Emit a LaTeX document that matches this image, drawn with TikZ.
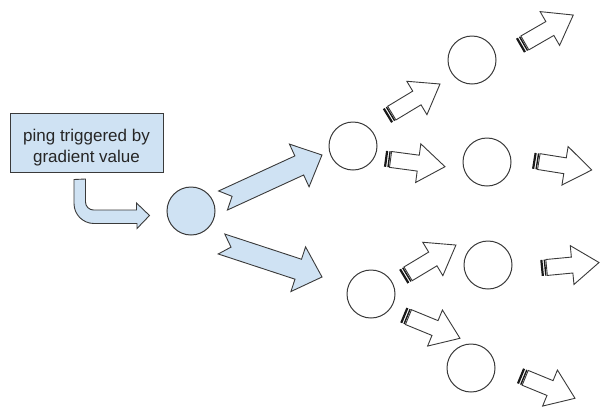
\documentclass[tikz,border=0pt]{standalone}
\usepackage{fontspec}
\setmainfont{Liberation Sans}
\usetikzlibrary{calc}
\definecolor{paleblue}{HTML}{CFE2F3}
\definecolor{edgegray}{HTML}{3A3A3A}
\newcommand{\shaftw}{8}
\newcommand{\headw}{19.5}
\newcommand{\headl}{27}
\newcommand{\bshaftw}{10.5}
\newcommand{\bheadw}{23.5}
\newcommand{\bheadl}{25}
\newcommand{\notchd}{10}
\newcommand{\arrowsetup}[2]{%
  \pgfpointdiff{\pgfpointanchor{#1}{center}}{\pgfpointanchor{#2}{center}}%
  \pgfgetlastxy{\arrdx}{\arrdy}%
  \pgfmathsetmacro{\arrlen}{veclen(\arrdx,\arrdy)}%
  \pgfmathsetmacro{\arrang}{atan2(\arrdy,\arrdx)}}
\newcommand{\stripearrow}[2]{%
  \arrowsetup{#1}{#2}
  \begin{scope}[shift={(#1)}, rotate=\arrang]
  \fill[stripe] (0,-\shaftw) rectangle (2.2,\shaftw);
  \fill[stripe] (3.4,-\shaftw) rectangle (4.8,\shaftw);
  \draw[whitearrow] (5.6,-\shaftw) -- ({\arrlen-\headl},-\shaftw) -- ({\arrlen-\headl},-\headw) -- (\arrlen,0) -- ({\arrlen-\headl},\headw) -- ({\arrlen-\headl},\shaftw) -- (5.6,\shaftw) -- cycle;
  \end{scope}}
\newcommand{\notcharrow}[2]{%
  \arrowsetup{#1}{#2}
  \begin{scope}[shift={(#1)}, rotate=\arrang]
  \draw[bluearrow] (0,-\bshaftw) -- ({\arrlen-\bheadl},-\bshaftw) -- ({\arrlen-\bheadl},-\bheadw) -- (\arrlen,0) -- ({\arrlen-\bheadl},\bheadw) -- ({\arrlen-\bheadl},\bshaftw) -- (0,\bshaftw) -- (\notchd,0) -- cycle;
  \end{scope}}

\begin{document}
\begin{tikzpicture}[x=1pt,y=-1pt,
  circ/.style={circle,draw=edgegray,line width=1pt,minimum size=48pt,inner sep=0pt},
  textbox/.style={rectangle,draw=edgegray,fill=paleblue,line width=1pt,minimum width=153pt,minimum height=59pt},
  boxtext/.style={align=center,inner sep=0pt,font=\fontsize{17}{21}\selectfont,text=black!85},
  bluearrow/.style={draw=edgegray,fill=paleblue,line width=0.9pt,line join=miter},
  whitearrow/.style={draw=edgegray,fill=white,line width=0.9pt,line join=miter},
  stripe/.style={fill=black!90}]
\useasboundingbox (0,0) rectangle (600,408);
\node[textbox] (gradbox) at (86.5,142.5) {};
\node[boxtext] (gradtext) at ($(gradbox)+(0,5)$) {ping triggered by\\gradient value};
\node[circ,fill=paleblue] (0) at (191,211) {};
\node[circ] (1) at (353,146) {};
\node[circ] (2) at (371,294) {};
\node[circ] (3) at (472,60) {};
\node[circ] (4) at (487,162) {};
\node[circ] (5) at (488,265) {};
\node[circ] (6) at (471,368) {};
% bent arrow from the box
\coordinate (bendtop) at ($(gradbox.south)+(-6.5,7)$);
\coordinate (bendtip) at ($(0.west)+(-17,4.5)$);
\draw[bluearrow] ($(bendtop)+(-6,0)$) -- ++(0,24) arc[start angle=180,end angle=90,radius=20] -- ++(43,0) -- ++(0,5) -- (bendtip) -- ++(-13,-12.5) -- ++(0,7) -- ++(-43,0) arc[start angle=90,end angle=180,radius=8] -- ++(0,-23) -- cycle;
% notched arrows
\coordinate (ta) at (223,200.5);
\coordinate (ha) at (322,155);
\coordinate (tb) at (221.5,244);
\coordinate (hb) at (322,277);
\notcharrow{ta}{ha}
\notcharrow{tb}{hb}
% striped arrows
\coordinate (t1) at (387,116);
\coordinate (h1) at (440,84);
\coordinate (t2) at (385,158.7);
\coordinate (h2) at (445,166.7);
\coordinate (t3) at (520,45.7);
\coordinate (h3) at (573.3,15);
\coordinate (t4) at (533.3,160.7);
\coordinate (h4) at (591.7,170);
\coordinate (t5) at (403.3,276.7);
\coordinate (h5) at (456,245);
\coordinate (t6) at (403.3,315);
\coordinate (h6) at (460,338.3);
\coordinate (t7) at (541,268);
\coordinate (h7) at (599,262.5);
\coordinate (t8) at (520,375.7);
\coordinate (h8) at (575,398.3);
\stripearrow{t1}{h1}
\stripearrow{t2}{h2}
\stripearrow{t3}{h3}
\stripearrow{t4}{h4}
\stripearrow{t5}{h5}
\stripearrow{t6}{h6}
\stripearrow{t7}{h7}
\stripearrow{t8}{h8}
\end{tikzpicture}
\end{document}
